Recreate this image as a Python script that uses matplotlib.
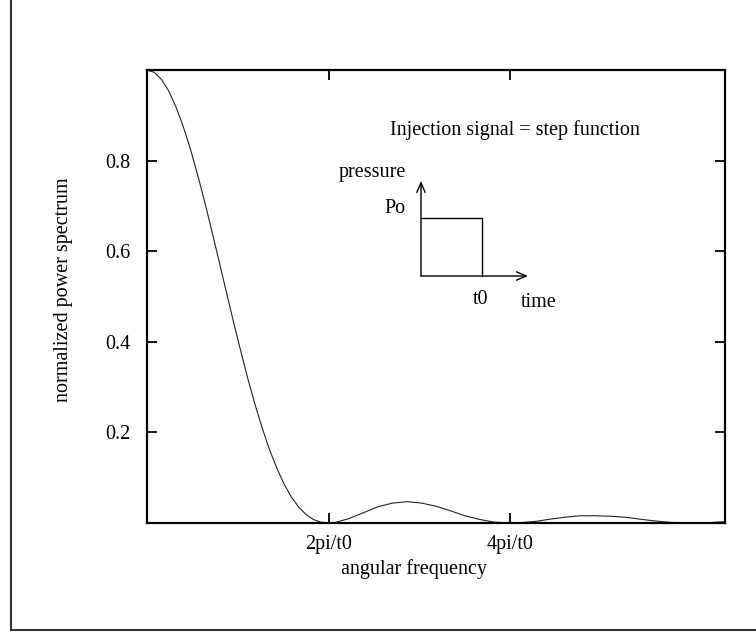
import matplotlib.pyplot as plt
import numpy as np
from matplotlib.lines import Line2D

plt.rcParams['font.family'] = ['Liberation Serif', 'DejaVu Serif']

# angular frequency (t0 = 1) and normalized power spectrum
freq = [0, 0.25, 0.5, 0.75, 1, 1.25, 1.5, 1.75, 2, 2.25, 2.5, 2.75, 3, 3.25,
        3.5, 3.75, 4, 4.25, 4.5, 4.75, 5, 5.25, 5.5, 5.75, 6, 6.25, 6.5, 7,
        7.5, 8, 8.5, 9, 9.5, 10, 10.5, 11, 11.5, 12, 12.5, 13, 13.5, 14, 14.5,
        15, 15.5, 16, 16.5, 17, 17.5, 18, 18.5, 19, 19.5, 20]
power = [1.0, 0.995, 0.979, 0.954, 0.919, 0.876, 0.826, 0.769, 0.708, 0.643,
         0.576, 0.509, 0.442, 0.378, 0.316, 0.259, 0.207, 0.160, 0.120, 0.085,
         0.057, 0.035, 0.019, 0.008, 0.002, 0.000, 0.001, 0.010, 0.023, 0.036,
         0.044, 0.047, 0.044, 0.037, 0.027, 0.016, 0.008, 0.002, 0.000, 0.001,
         0.004, 0.009, 0.013, 0.016, 0.016, 0.015, 0.013, 0.009, 0.005, 0.002,
         0.000, 0.000, 0.001, 0.003]

xtick_pos = [2 * np.pi, 4 * np.pi]
xtick_labels = ['2pi/t0', '4pi/t0']
ytick_pos = [0.2, 0.4, 0.6, 0.8]
ytick_labels = ['0.2', '0.4', '0.6', '0.8']

# step function of the inset (t0 = 1, Po = 1)
step_t = [0, 1, 1]
step_p = [1, 1, 0]

W, H = 756, 632
fig = plt.figure(figsize=(W / 100, H / 100), dpi=100)

# main plot
ax = fig.add_axes([147 / W, 1 - 523 / H, 578 / W, 453 / H])
ax.plot(freq, power, color='#222222', lw=0.8, zorder=1)
ax.set_xlim(0, 20)
ax.set_ylim(0, 1)
ax.set_xticks(xtick_pos)
ax.set_xticklabels(xtick_labels)
ax.set_yticks(ytick_pos)
ax.set_yticklabels(ytick_labels)
ax.tick_params(direction='in', length=7, width=1.3, top=True, right=True,
               labelsize=14.5, colors='black')
ax.tick_params(axis='y', pad=12)
ax.tick_params(axis='x', pad=8.5)
for s in ax.spines.values():
    s.set_linewidth(1.6)
    s.set_zorder(3)
ax.set_xlabel('angular frequency', fontsize=14.5)
ax.xaxis.set_label_coords(0.462, -0.08)
ax.set_ylabel('normalized power spectrum', fontsize=14.5)
ax.yaxis.set_label_coords(-0.128, 0.514)

# inset sketch of the injection signal
ins = fig.add_axes([421 / W, 1 - 276 / H, 107 / W, 95 / H])
ins.axis('off')
ins.set_xlim(0, 1.75)
ins.set_ylim(0, 1.64)
arrow = dict(arrowstyle='->,head_length=0.7,head_width=0.3', lw=1,
             color='black', shrinkA=0, shrinkB=0)
ins.annotate('', xy=(1.75, 0), xytext=(0, 0), arrowprops=arrow)
ins.annotate('', xy=(0, 1.64), xytext=(0, 0), arrowprops=arrow)
ins.plot(step_t, step_p, color='black', lw=1, clip_on=False)
ins.text(-0.25, 1.79, 'pressure', ha='right', va='center', fontsize=14.5)
ins.text(-0.26, 1.17, 'Po', ha='right', va='center', fontsize=14.5)
ins.text(0.97, -0.4, 't0', ha='center', va='center', fontsize=14.5)
ins.text(1.64, -0.45, 'time', ha='left', va='center', fontsize=14.5)
ins.text(1.54, 2.52, 'Injection signal = step function', ha='center',
         va='center', fontsize=14.5)

# outer frame (left and bottom edges only)
fig.add_artist(Line2D([11 / W, 11 / W], [2 / H, 1], transform=fig.transFigure,
                      color='#333333', lw=1.5))
fig.add_artist(Line2D([11 / W, 1], [2 / H, 2 / H], transform=fig.transFigure,
                      color='#333333', lw=1.5))

fig.savefig('out.png', dpi=100)
